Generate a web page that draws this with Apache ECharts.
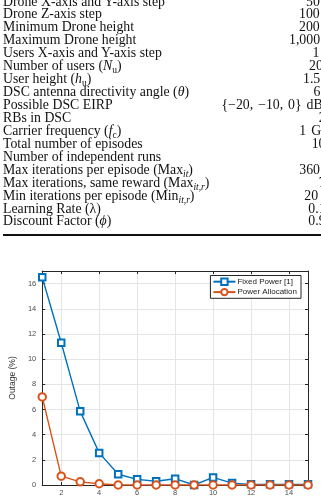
<!DOCTYPE html>
<html>
  <head>
    <meta charset="utf-8" />
    <title>Outage vs Episode</title>
    <script src="https://cdn.jsdelivr.net/npm/echarts@6.0.0/dist/echarts.min.js"></script>
    <style>
      body {
        margin: 0;
        padding: 0;
        width: 321px;
        height: 497px;
        overflow: hidden;
        position: relative;
        background: #fff;
      }
      #main {
        position: absolute;
        left: 0;
        top: 0;
        width: 321px;
        height: 497px;
      }
      #table {
        position: absolute;
        left: 0;
        top: -4.5px;
        width: 321px;
        font-family: "Liberation Serif", "DejaVu Serif", serif;
        font-size: 13.8px;
        color: #111;
      }
      .row {
        position: relative;
        height: 12.95px;
        line-height: 12.95px;
        white-space: nowrap;
      }
      .name {
        position: absolute;
        left: 3px;
      }
      .val {
        position: absolute;
        word-spacing: 1.5px;
      }
      sub {
        font-size: 9.5px;
        line-height: 0;
        vertical-align: -3px;
      }
      #rule {
        position: absolute;
        left: 3px;
        width: 330px;
        top: 233.5px;
        height: 2px;
        background: #111;
      }
    </style>
  </head>
  <body>
    <div id="main"></div>
    <div id="table"></div>
    <div id="rule"></div>
    <script type="text/javascript">
      // table rows (parameter names and their values)
      var paramNames = [
        "Drone X-axis and Y-axis step",
        "Drone Z-axis step",
        "Minimum Drone height",
        "Maximum Drone height",
        "Users X-axis and Y-axis step",
        "Number of users (<i>N</i><sub>u</sub>)",
        "User height (<i>h</i><sub>u</sub>)",
        "DSC antenna directivity angle (<i>θ</i>)",
        "Possible DSC EIRP",
        "RBs in DSC",
        "Carrier frequency (<i>f</i><sub>c</sub>)",
        "Total number of episodes",
        "Number of independent runs",
        "Max iterations per episode (Max<sub><i>it</i></sub>)",
        "Max iterations, same reward (Max<sub><i>it,r</i></sub>)",
        "Min iterations per episode (Min<sub><i>it,r</i></sub>)",
        "Learning Rate (λ)",
        "Discount Factor (<i>ϕ</i>)",
      ];
      var paramValues = [
        "50", "100", "200", "1,000", "1", "20", "1.5", "60",
        "{−20, −10, 0} dBm", "2", "1 GHz", "10", "", "360", "7",
        "20", "0.1", "0.9",
      ];
      // where each value starts (the column is cut at the right edge)
      var valueLeft = [
        306, 299, 299, 289, 312.5, 309, 303, 313.5,
        221.5, 318.7, 299.3, 311.7, 330, 299.3, 318.7,
        304.3, 308.3, 308.3,
      ];

      // chart data
      var episodes = [1, 2, 3, 4, 5, 6, 7, 8, 9, 10, 11, 12, 13, 14, 15];
      var fixedPower = [16.5, 11.3, 5.85, 2.55, 0.85, 0.45, 0.3, 0.5, 0.0, 0.6, 0.15, 0.05, 0.05, 0.05, 0.05];
      var powerAllocation = [7.0, 0.7, 0.25, 0.1, 0, 0, 0, 0, 0, 0, 0, 0, 0, 0, 0];
      var xTicks = [2, 4, 6, 8, 10, 12, 14];
      var yTicks = [0, 2, 4, 6, 8, 10, 12, 14, 16];

      var table = document.getElementById("table");
      paramNames.forEach(function (name, i) {
        var row = document.createElement("div");
        row.className = "row";
        row.innerHTML =
          '<span class="name">' + name + "</span>" +
          '<span class="val" style="left:' + valueLeft[i] + 'px">' + paramValues[i] + "</span>";
        table.appendChild(row);
      });

      var myChart = echarts.init(document.getElementById("main"));

      var axisColor = "#262626";
      var gridColor = "#e5e5e5";
      var labelColor = "#4d4d4d";

      function boxAxis(ticks, extra) {
        var a = {
          type: "value",
          axisLine: { show: true, onZero: false, lineStyle: { color: axisColor, width: 1 } },
          axisTick: { show: true, inside: true, length: 3, customValues: ticks, lineStyle: { color: axisColor } },
          axisLabel: { show: false, customValues: ticks },
          splitLine: { show: false },
        };
        return Object.assign(a, extra);
      }

      var option = {
        animation: false,
        grid: { left: 31, right: 13, top: 271, bottom: 11 },
        legend: {
          orient: "vertical",
          right: 20,
          top: 275.5,
          backgroundColor: "#fff",
          borderColor: axisColor,
          borderWidth: 1,
          borderRadius: 0,
          padding: [2, 4, 2, 2],
          itemGap: 2,
          itemWidth: 22,
          itemHeight: 8,
          textStyle: { fontFamily: "Liberation Sans", fontSize: 8, color: "#222", padding: [0, 0, 0, -3] },
          data: ["Fixed Power [1]", "Power Allocation"],
        },
        xAxis: [
          {
            type: "value",
            min: 1,
            max: 15,
            axisLine: { show: true, onZero: false, lineStyle: { color: axisColor, width: 1 } },
            axisTick: { show: true, inside: true, length: 3, customValues: xTicks, lineStyle: { color: axisColor } },
            axisLabel: {
              customValues: xTicks,
              fontFamily: "Liberation Sans",
              fontSize: 7.5,
              color: labelColor,
              margin: 4,
            },
            splitLine: { show: true, lineStyle: { color: gridColor, width: 1 } },
          },
          boxAxis(xTicks, { min: 1, max: 15, position: "top" }),
        ],
        yAxis: [
          {
            type: "value",
            min: 0,
            max: 17,
            name: "Outage (%)",
            nameLocation: "middle",
            nameGap: 15,
            nameTextStyle: { fontFamily: "Liberation Sans", fontSize: 8.5, color: "#333" },
            axisLine: { show: true, onZero: false, lineStyle: { color: axisColor, width: 1 } },
            axisTick: { show: true, inside: true, length: 3, customValues: yTicks, lineStyle: { color: axisColor } },
            axisLabel: {
              customValues: yTicks,
              fontFamily: "Liberation Sans",
              fontSize: 7.5,
              color: labelColor,
              margin: 6,
            },
            splitLine: { show: true, lineStyle: { color: gridColor, width: 1 } },
          },
          boxAxis(yTicks, { min: 0, max: 17, position: "right" }),
        ],
        series: [
          {
            name: "Fixed Power [1]",
            type: "line",
            data: episodes.map(function (e, i) { return [e, fixedPower[i]]; }),
            symbol: "emptyRect",
            symbolSize: 6.5,
            lineStyle: { color: "#0072BD", width: 1.4 },
            itemStyle: { color: "#0072BD", borderWidth: 1.4 },
            z: 3,
          },
          {
            name: "Power Allocation",
            type: "line",
            data: episodes.map(function (e, i) { return [e, powerAllocation[i]]; }),
            symbol: "emptyCircle",
            symbolSize: 7.5,
            lineStyle: { color: "#D95319", width: 1.4 },
            itemStyle: { color: "#D95319", borderWidth: 1.4 },
            z: 4,
          },
        ],
      };

      myChart.setOption(option);
    </script>
  </body>
</html>
